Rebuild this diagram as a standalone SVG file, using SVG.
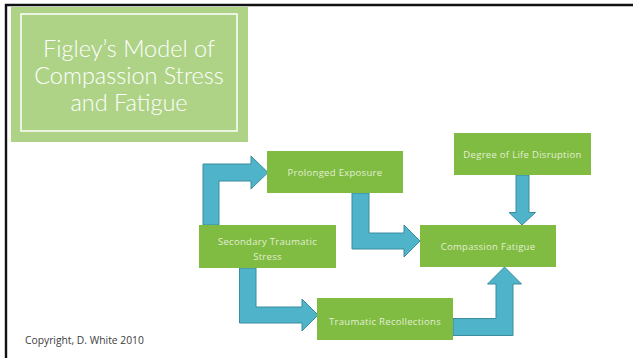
<svg xmlns="http://www.w3.org/2000/svg" width="633" height="358" viewBox="0 0 633 358">
  <defs>
    <style>
      .node rect { fill: #80bc42; }
      .node text { font-family: "Open Sans", "Liberation Sans", sans-serif; font-size: 9.5px; fill: #e3efd4; text-anchor: middle; letter-spacing: 0.3px; }
      .arrow { fill: #4fb3c9; stroke: #3b8c9c; stroke-width: 1; stroke-linejoin: miter; }
      .title { font-family: Lato, "Liberation Sans", sans-serif; font-weight: 300; font-size: 23.5px; fill: #ffffff; text-anchor: middle; }
    </style>
  </defs>
  <rect width="633" height="358" fill="#ffffff"/>
  <!-- slide frame -->
  <path d="M6 358 V5 H633" fill="none" stroke="#111111" stroke-width="2.4"/>

  <!-- title panel -->
  <g id="title">
    <rect x="11" y="7" width="237" height="135" fill="#aed387"/>
    <rect x="21" y="14" width="216" height="117" fill="none" stroke="#ffffff" stroke-width="1.5"/>
    <text class="title" x="129" y="57">Figley’s Model of</text>
    <text class="title" x="129" y="84">Compassion Stress</text>
    <text class="title" x="129" y="111">and Fatigue</text>
  </g>

  <!-- connectors -->
  <g id="connectors">
    <!-- Secondary Traumatic Stress -> Prolonged Exposure -->
    <path class="arrow" d="M203 225 V164 H251 V156 L268 172.5 L251 189 V181 H219 V225 Z"/>
    <!-- Prolonged Exposure -> Compassion Fatigue -->
    <path class="arrow" d="M352 193 V249 H404 V257 L420 241 L404 225 V233 H369 V193 Z"/>
    <!-- Degree of Life Disruption -> Compassion Fatigue -->
    <path class="arrow" d="M516 175 V212.5 H509 L522 225 L535.5 212.5 H529 V175 Z"/>
    <!-- Secondary Traumatic Stress -> Traumatic Recollections -->
    <path class="arrow" d="M239.5 268 V323 H302 V331 L318 315 L302 299 V307 H256 V268 Z"/>
    <!-- Traumatic Recollections -> Compassion Fatigue -->
    <path class="arrow" d="M453 318.5 H496 V284 H487.5 L504.5 267 L521.5 284 H513 V335.5 H453 Z"/>
  </g>

  <!-- nodes -->
  <g id="prolonged-exposure" class="node">
    <rect x="267" y="151" width="136" height="42"/>
    <text x="335" y="175.5">Prolonged Exposure</text>
  </g>
  <g id="degree-of-life-disruption" class="node">
    <rect x="454" y="133" width="137" height="42"/>
    <text x="522.5" y="157.5">Degree of Life Disruption</text>
  </g>
  <g id="secondary-traumatic-stress" class="node">
    <rect x="199" y="225" width="137" height="43"/>
    <text x="267.5" y="244.5">Secondary Traumatic</text>
    <text x="267.5" y="260">Stress</text>
  </g>
  <g id="compassion-fatigue" class="node">
    <rect x="420" y="225" width="136" height="42"/>
    <text x="488" y="250">Compassion Fatigue</text>
  </g>
  <g id="traumatic-recollections" class="node">
    <rect x="317" y="298" width="136" height="42"/>
    <text x="385" y="324.5">Traumatic Recollections</text>
  </g>

  <text x="25" y="344" font-family="'Open Sans', 'Liberation Sans', sans-serif" font-size="10.3" fill="#404040">Copyright, D. White 2010</text>
</svg>
